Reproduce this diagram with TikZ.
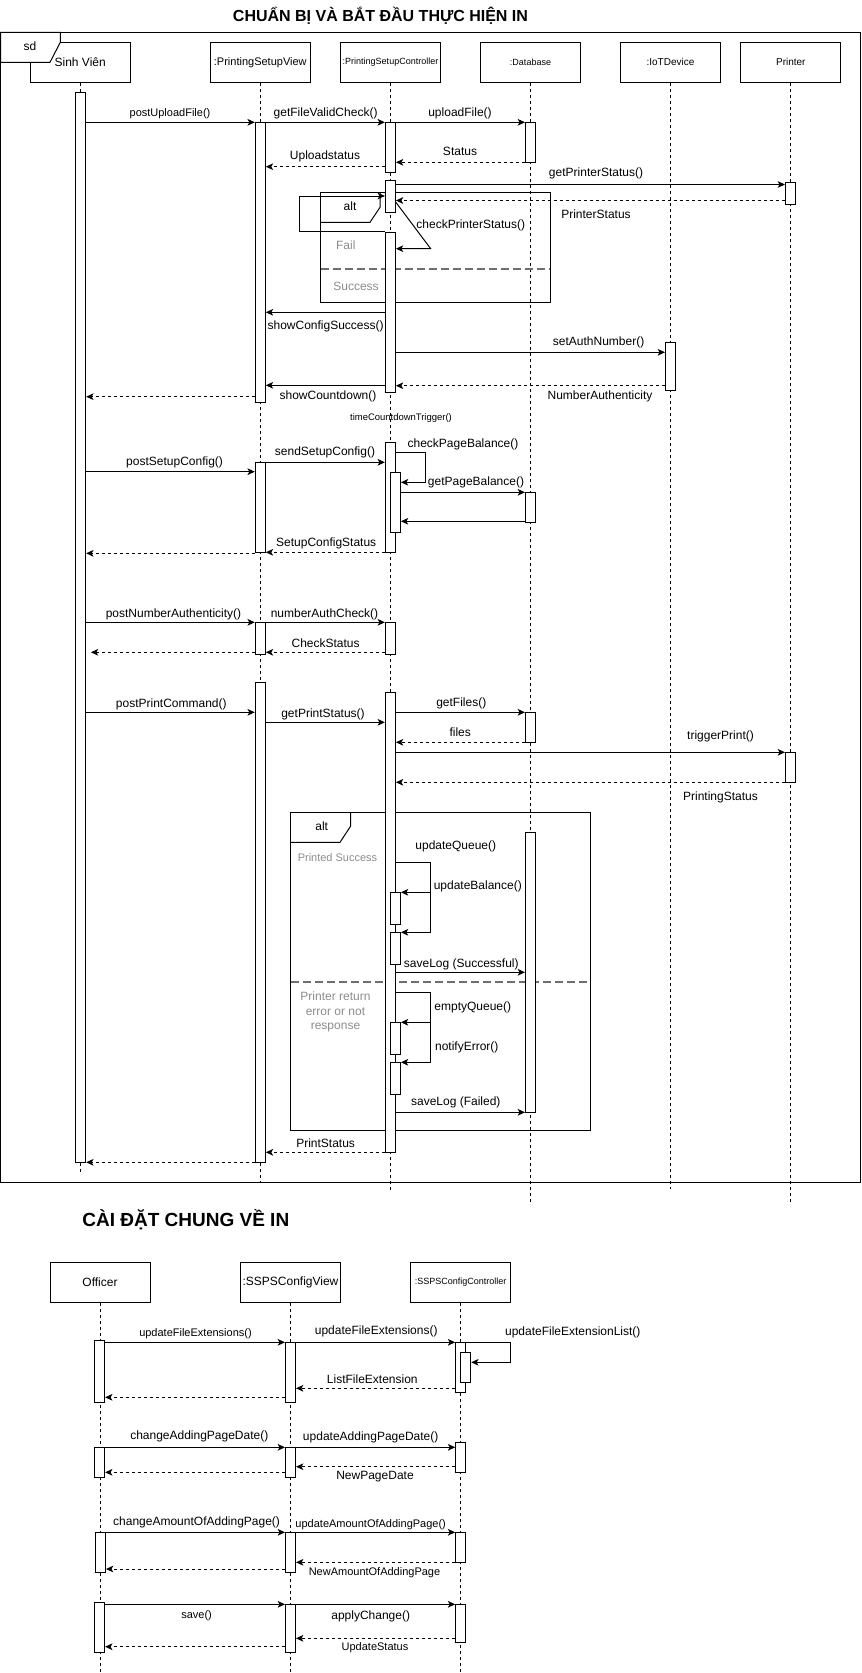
\documentclass[tikz,border=0pt]{standalone}
\usepackage{fontspec}
\setmainfont{Liberation Sans}
\usetikzlibrary{arrows.meta}
\definecolor{notegray}{HTML}{8C8C8C}
\definecolor{divgray}{HTML}{6E6E6E}

% activation bar: name, centre x, top y, bottom y (all in px)
\newcommand\actbar[4]{\node[bar, minimum height={(#4-#3)*0.75pt}] (#1) at (#2,{(#3+#4)/2}) {};}

\tikzset{
  frm/.style={draw, line width=0.75pt},
  box/.style={draw, fill=white, line width=0.75pt, minimum width=75pt, minimum height=30pt, inner sep=0pt},
  bar/.style={draw, fill=white, line width=0.75pt, minimum width=7.5pt, inner sep=0pt},
  life/.style={line width=0.75pt, dash pattern=on 2.25pt off 2.25pt},
  msg/.style={line width=0.75pt, -{Stealth[length=5.5pt,width=5pt,inset=1.4pt]}},
  ret/.style={msg, dash pattern=on 2.25pt off 2.25pt},
  divider/.style={draw=divgray, line width=1.5pt, dash pattern=on 6pt off 3pt},
  t12/.style={font=\fontsize{9}{10.9}\selectfont, inner sep=0pt},
  t11/.style={font=\fontsize{8.25}{10}\selectfont, inner sep=0pt},
  t10/.style={font=\fontsize{7.5}{9}\selectfont, inner sep=0pt},
  t9/.style={font=\fontsize{6.75}{8}\selectfont, inner sep=0pt},
  tsmall/.style={font=\fontsize{7.1}{8}\selectfont, inner sep=0pt},
  note/.style={t12, text=notegray},
  note11/.style={t11, text=notegray},
  title1/.style={font=\fontsize{12}{14}\selectfont\bfseries, inner sep=0pt},
  title2/.style={font=\fontsize{14.25}{17}\selectfont\bfseries, inner sep=0pt},
}

\begin{document}
\begin{tikzpicture}[x=0.75pt,y=-0.75pt]
\useasboundingbox (0,0) rectangle (861,1673);

% ---------------- titles ----------------
\node[title1] (ttl1) at (380.5,16) {CHUẨN BỊ VÀ BẮT ĐẦU THỰC HIỆN IN};
\node[title2] (ttl2) at (185.8,1220) {CÀI ĐẶT CHUNG VỀ IN};

% ---------------- sequence 1: printing ----------------
\draw[frm] (0.5,32.3) rectangle (860,1182.3);

\node[box,t12] (sv)  at (80.2,62.3)  {Sinh Viên};
\node[box,t11] (psv) at (260.3,62.3) {:PrintingSetupView};
\node[box,t9]  (psc) at (390.5,62.3) {:PrintingSetupController};
\node[box,t9]  (db)  at (530.5,62.3) {:Database};
\node[box,t10] (iot) at (670.5,62.3) {:IoTDevice};
\node[box,t10] (prn) at (790.8,62.3) {Printer};

\draw[life] (sv.south)  -- (sv.south |- 0,1172);
\draw[life] (psv.south) -- (psv.south |- 0,1182.3);
\draw[life] (psc.south) -- (psc.south |- 0,1190);
\draw[life] (db.south)  -- (db.south |- 0,1202);
\draw[life] (iot.south) -- (iot.south |- 0,1189);
\draw[life] (prn.south) -- (prn.south |- 0,1202);

% frame tab
\draw[frm, fill=white] (0.5,32.3) -- (60.3,32.3) -- (60.3,42.3) -- (50,62.3) -- (0.5,62.3) -- cycle;
\node[t12] (sd) at (30,46.7) {sd};

% alt: printer check
\draw[frm] (320.5,192.5) rectangle (550.3,302.3);
\draw[frm] (320.5,222.3) -- (370,222.3) -- (380,207.3) -- (380,192.5);
\draw[divider] (320.5,269) -- (550.3,269);
\node[t12] (alt1) at (350,206.7) {alt};
\node[note] (fail) at (345.8,245) {Fail};
\node[note] (succ) at (356,286.7) {Success};

% alt: print result
\draw[frm] (290.7,812.3) rectangle (590.3,1130.3);
\draw[frm] (290.7,842.3) -- (340,842.3) -- (350.7,826) -- (350.7,812.3);
\draw[divider] (290.7,982.3) -- (590.3,982.3);
\node[t12] (alt2) at (321.7,826.7) {alt};
\node[note11] (psucc) at (337.5,857.3) {Printed Success};
\node[note, align=center] (perr) at (335.5,1012) {Printer return\\error or not\\response};

% activation bars
\actbar{sv1}{80.7}{92.3}{1162.3}
\actbar{v1}{260.3}{122.3}{402.7}
\actbar{c1}{390.4}{122.3}{172.3}
\actbar{d1}{530.5}{122.3}{162.3}
\actbar{c2}{390.4}{180.3}{212}
\actbar{p1}{790.5}{182.7}{204}
\actbar{c3}{390.4}{232.3}{392.3}
\actbar{i1}{670.5}{342.3}{390.3}
\actbar{c4}{390.4}{442.3}{552.3}
\actbar{c4n}{395.4}{472.3}{532.3}
\actbar{v2}{260.3}{462.3}{552.3}
\actbar{d2}{530.5}{492.3}{522.3}
\actbar{v3}{260.3}{622.3}{654.3}
\actbar{c5}{390.4}{622.3}{654.3}
\actbar{v4}{260.3}{682.3}{1162.3}
\actbar{c6}{390.4}{692.3}{1152.3}
\actbar{d3}{530.5}{712.3}{742.3}
\actbar{p2}{790.5}{752.3}{782.3}
\actbar{d4}{530.5}{832.3}{1112.3}
\actbar{cA}{395.4}{892.3}{924.3}
\actbar{cB}{395.4}{932.3}{964.3}
\actbar{cC}{395.4}{1022.3}{1054}
\actbar{cD}{395.4}{1062.3}{1094.3}

% upload
\draw[msg] (sv1.east |- 0,122.3) -- (v1.west |- 0,122.3);
\node[t11] (m1) at (170,113.3) {postUploadFile()};
\draw[msg] (v1.east |- 0,122.3) -- (c1.west |- 0,122.3);
\node[t12] (m2) at (325.6,113) {getFileValidCheck()};
\draw[msg] (c1.east |- 0,122.3) -- (d1.west |- 0,122.3);
\node[t12] (m3) at (460,113) {uploadFile()};
\draw[ret] (d1.west |- 0,162.3) -- (c1.east |- 0,162.3);
\node[t12] (m4) at (460,151.7) {Status};
\draw[ret] (c1.west |- 0,166.7) -- (v1.east |- 0,166.7);
\node[t12] (m5) at (325,156.7) {Uploadstatus};

% printer status
\draw[msg] (c2.east |- 0,184.5) -- (p1.west |- 0,184.5);
\node[t12] (m6) at (596,173.7) {getPrinterStatus()};
\draw[ret] (p1.west |- 0,200.5) -- (c2.east |- 0,200.5);
\node[t12] (m7) at (596,214.7) {PrinterStatus};
\draw[msg] (c3.north west) -- ++(-85.1,0) |- (c2.west |- 0,196);
\draw[msg] (c2.east |- 0,202.3) -- (430.7,248.7) -- (c3.east |- 0,248.7);
\node[t12] (m8) at (470.8,225) {checkPrinterStatus()};

% configuration / countdown
\draw[msg] (c3.west |- 0,312.3) -- (v1.east |- 0,312.3);
\node[t12] (m9) at (325.6,326.7) {showConfigSuccess()};
\draw[msg] (c3.east |- 0,352.3) -- (i1.west |- 0,352.3);
\node[t12] (m10) at (598.6,342.7) {setAuthNumber()};
\draw[ret] (i1.west |- 0,385.7) -- (c3.east |- 0,385.7);
\node[t12] (m11) at (600,396.7) {NumberAuthenticity};
\draw[msg] (c3.west |- 0,385.3) -- (v1.east |- 0,385.3);
\node[t12] (m12) at (328,396.7) {showCountdown()};
\draw[ret] (v1.west |- 0,396.7) -- (sv1.east |- 0,396.7);
\node[tsmall] (m13) at (401,417.7) {timeCountdownTrigger()};

% setup config
\draw[msg] (sv1.east |- 0,471.7) -- (v2.west |- 0,471.7);
\node[t12] (m14) at (174.6,462.7) {postSetupConfig()};
\draw[msg] (v2.east |- 0,462.3) -- (c4.west |- 0,462.3);
\node[t12] (m15) at (325,452.7) {sendSetupConfig()};
\draw[msg] (c4.east |- 0,452.3) -- (425,452.3) -- (425,482.3) -- (c4n.east |- 0,482.3);
\node[t12] (m16) at (463,444) {checkPageBalance()};
\draw[msg] (c4n.east |- 0,492.3) -- (d2.west |- 0,492.3);
\node[t12] (m17) at (476,482.7) {getPageBalance()};
\draw[msg] (d2.west |- 0,521.3) -- (c4n.east |- 0,521.3);
\draw[ret] (c4.west |- 0,552.3) -- (v2.east |- 0,552.3);
\node[t12] (m18) at (326.2,543.7) {SetupConfigStatus};
\draw[ret] (v2.west |- 0,553.3) -- (sv1.east |- 0,553.3);

% authentication number
\draw[msg] (sv1.east |- 0,622.3) -- (v3.west |- 0,622.3);
\node[t12] (m19) at (173.5,614) {postNumberAuthenticity()};
\draw[msg] (v3.east |- 0,622.3) -- (c5.west |- 0,622.3);
\node[t12] (m20) at (324.5,614) {numberAuthCheck()};
\draw[ret] (c5.west |- 0,652.3) -- (v3.east |- 0,652.3);
\node[t12] (m21) at (325.6,643.3) {CheckStatus};
\draw[ret] (v3.west |- 0,652.3) -- ([xshift=3.5pt]sv1.east |- 0,652.3);

% print command
\draw[msg] (sv1.east |- 0,712.3) -- (v4.west |- 0,712.3);
\node[t12] (m22) at (171.3,704) {postPrintCommand()};
\draw[msg] (v4.east |- 0,722.3) -- (c6.west |- 0,722.3);
\node[t12] (m23) at (323,714) {getPrintStatus()};
\draw[msg] (c6.east |- 0,712.3) -- (d3.west |- 0,712.3);
\node[t12] (m24) at (461.3,703) {getFiles()};
\draw[ret] (d3.west |- 0,742.3) -- (c6.east |- 0,742.3);
\node[t12] (m25) at (460.2,732.3) {files};
\draw[msg] (c6.east |- 0,752.3) -- (p2.west |- 0,752.3);
\node[t12] (m26) at (720.5,736.7) {triggerPrint()};
\draw[ret] (p2.west |- 0,782.3) -- (c6.east |- 0,782.3);
\node[t12] (m27) at (720.5,797) {PrintingStatus};

% printed successfully
\draw[msg] (c6.east |- 0,862.3) -- (430,862.3) -- (430,892.3) -- (cA.east |- 0,892.3);
\node[t12] (m28) at (455.8,846.7) {updateQueue()};
\draw[msg] (430,892.3) -- (430,932.3) -- (cB.east |- 0,932.3);
\node[t12] (m29) at (477.8,886.7) {updateBalance()};
\draw[msg] (c6.east |- 0,972.3) -- (d4.west |- 0,972.3);
\node[t12] (m30) at (461.3,964) {saveLog (Successful)};

% printer error
\draw[msg] (c6.east |- 0,992.3) -- (430,992.3) -- (430,1022.3) -- (cC.east |- 0,1022.3);
\node[t12] (m31) at (472.8,1007.3) {emptyQueue()};
\draw[msg] (430,1022.3) -- (430,1062.3) -- (cD.east |- 0,1062.3);
\node[t12] (m32) at (466.8,1047) {notifyError()};
\draw[msg] (c6.east |- 0,1112.3) -- (d4.west |- 0,1112.3);
\node[t12] (m33) at (455.8,1102.7) {saveLog (Failed)};

\draw[ret] (c6.west |- 0,1152.3) -- (v4.east |- 0,1152.3);
\node[t12] (m34) at (325.6,1143.3) {PrintStatus};
\draw[ret] (v4.west |- 0,1162.3) -- (sv1.east |- 0,1162.3);

% ---------------- sequence 2: general print settings ----------------
\node[box,t12] (off) at (100,1282.3)   {Officer};
\node[box,t12] (scv) at (290.5,1282.3) {:SSPSConfigView};
\node[box,t9]  (scc) at (460.7,1282.3) {:SSPSConfigController};

\draw[life] (off.south) -- (off.south |- 0,1673);
\draw[life] (scv.south) -- (scv.south |- 0,1673);
\draw[life] (scc.south) -- (scc.south |- 0,1673);

\actbar{o1}{99.6}{1340.3}{1402}
\actbar{w1}{290.5}{1342.3}{1402}
\actbar{k1}{460.7}{1342.3}{1392}
\actbar{k1n}{465.7}{1352.3}{1382.3}
\actbar{o2}{99.6}{1447.3}{1477}
\actbar{w2}{290.5}{1447.3}{1477}
\actbar{k2}{460.7}{1442.3}{1472.3}
\actbar{o3}{100.5}{1532.3}{1572.3}
\actbar{w3}{290.5}{1532.3}{1572.3}
\actbar{k3}{460.7}{1532.3}{1562.3}
\actbar{o4}{99.6}{1602.3}{1652.3}
\actbar{w4}{290.5}{1604.3}{1652.3}
\actbar{k4}{460.7}{1604.3}{1642.3}

% file extensions
\draw[msg] (o1.east |- 0,1342.3) -- (w1.west |- 0,1342.3);
\node[t11] (n1) at (195.5,1333.3) {updateFileExtensions()};
\draw[msg] (w1.east |- 0,1342.3) -- (k1.west |- 0,1342.3);
\node[t12] (n2) at (376.2,1331.7) {updateFileExtensions()};
\draw[msg] (k1.east |- 0,1342.3) -- (510.7,1342.3) -- (510.7,1362.3) -- (k1n.east |- 0,1362.3);
\node[t12] (n3) at (572.8,1332.3) {updateFileExtensionList()};
\draw[ret] (k1.west |- 0,1388.3) -- (w1.east |- 0,1388.3);
\node[t12] (n4) at (372.3,1379) {ListFileExtension};
\draw[ret] (w1.west |- 0,1397.3) -- (o1.east |- 0,1397.3);

% adding page date
\draw[msg] (o2.east |- 0,1447.3) -- (w2.west |- 0,1447.3);
\node[t12] (n5) at (199.3,1436) {changeAddingPageDate()};
\draw[msg] (w2.east |- 0,1447.3) -- (k2.west |- 0,1447.3);
\node[t12] (n6) at (370.7,1437) {updateAddingPageDate()};
\draw[ret] (k2.west |- 0,1466.7) -- (w2.east |- 0,1466.7);
\node[t12] (n7) at (375,1476.7) {NewPageDate};
\draw[ret] (w2.west |- 0,1472.3) -- (o2.east |- 0,1472.3);

% amount of adding page
\draw[msg] (o3.east |- 0,1532.3) -- (w3.west |- 0,1532.3);
\node[t12] (n8) at (196.6,1522.7) {changeAmountOfAddingPage()};
\draw[msg] (w3.east |- 0,1532.3) -- (k3.west |- 0,1532.3);
\node[t11] (n9) at (370.7,1525) {updateAmountOfAddingPage()};
\draw[ret] (k3.west |- 0,1562.3) -- (w3.east |- 0,1562.3);
\node[t11] (n10) at (374.5,1572.3) {NewAmountOfAddingPage};
\draw[ret] (w3.west |- 0,1569) -- (o3.east |- 0,1569);

% save
\draw[msg] (o4.east |- 0,1604.3) -- (w4.west |- 0,1604.3);
\node[t11] (n11) at (196.6,1615.7) {save()};
\draw[msg] (w4.east |- 0,1604.3) -- (k4.west |- 0,1604.3);
\node[t12] (n12) at (370.7,1616.7) {applyChange()};
\draw[ret] (k4.west |- 0,1638.3) -- (w4.east |- 0,1638.3);
\node[t11] (n13) at (375,1647.3) {UpdateStatus};
\draw[ret] (w4.west |- 0,1646.7) -- (o4.east |- 0,1646.7);

\end{tikzpicture}
\end{document}
